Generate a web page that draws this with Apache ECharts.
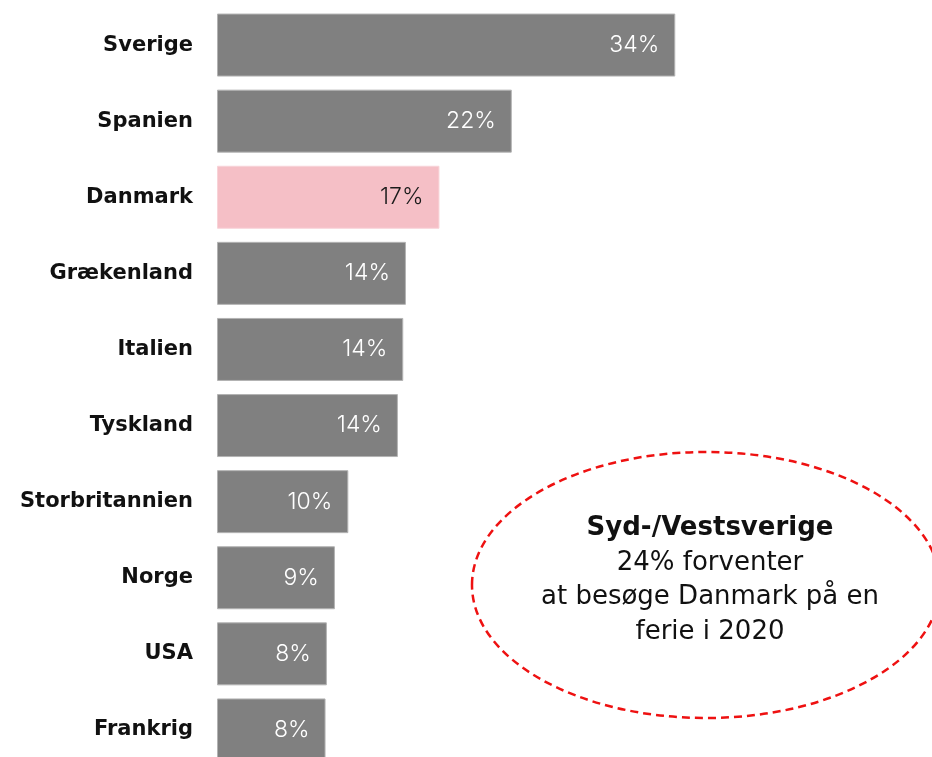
<!DOCTYPE html>
<html>
<head>
<meta charset="utf-8">
<script src="https://cdn.jsdelivr.net/npm/echarts@6/dist/echarts.min.js"></script>
<style>
  html, body { margin: 0; padding: 0; background: #fff; }
  #chart { width: 932px; height: 757px; }
</style>
</head>
<body>
<div id="chart"></div>
<script>
// Ferieland-andele (procent), øverst til nederst
const countries = ['Sverige', 'Spanien', 'Danmark', 'Grækenland', 'Italien', 'Tyskland', 'Storbritannien', 'Norge', 'USA', 'Frankrig'];
const shares = [34.2, 22.0, 16.6, 14.1, 13.9, 13.5, 9.8, 8.8, 8.2, 8.1];
const highlighted = 'Danmark';

// Tekst i boblen
const calloutTitle = 'Syd-/Vestsverige';
const calloutLines = ['24% forventer', 'at besøge Danmark på en', 'ferie i 2020'];

const FONT = '"DejaVu Sans", "Noto Sans", sans-serif';
const VALUE_FONT = 'Inter, "Noto Sans", sans-serif';
const chart = echarts.init(document.getElementById('chart'), null, { renderer: 'canvas' });

const barData = countries.map((c, i) => ({
  value: shares[i],
  itemStyle: c === highlighted
    ? { color: '#f5bfc6', borderColor: '#f8d3d8' }
    : { color: '#808080', borderColor: '#b3b3b3' },
  label: c === highlighted ? { color: '#1a1a1a' } : {}
}));

const cx = 706, cy = 585;
const graphics = [
  {
    type: 'ellipse',
    shape: { cx: cx, cy: cy, rx: 234, ry: 133 },
    style: { fill: 'none', stroke: '#ee1111', lineWidth: 2.5, lineDash: [8, 5] },
    z: 10
  },
  {
    type: 'text',
    x: 710, y: 528,
    style: {
      text: calloutTitle, fill: '#111', font: 'bold 26px ' + FONT,
      textAlign: 'center', textVerticalAlign: 'middle'
    },
    z: 11
  }
];
calloutLines.forEach((t, i) => {
  graphics.push({
    type: 'text',
    x: 710, y: 563 + i * 34.5,
    style: {
      text: t, fill: '#111', font: '26px ' + FONT,
      textAlign: 'center', textVerticalAlign: 'middle'
    },
    z: 11
  });
});

chart.setOption({
  animation: false,
  backgroundColor: '#ffffff',
  grid: { left: 217, top: 7, width: 670, height: 761, containLabel: false, outerBoundsMode: 'none' },
  xAxis: {
    type: 'value', min: 0, max: 50,
    show: false
  },
  yAxis: {
    type: 'category',
    data: countries,
    inverse: true,
    axisLine: { show: false },
    axisTick: { show: false },
    splitLine: { show: false },
    axisLabel: {
      margin: 24,
      color: '#111',
      fontFamily: FONT,
      fontWeight: 'bold',
      fontSize: 21
    }
  },
  series: [{
    type: 'bar',
    data: barData,
    barWidth: 63,
    itemStyle: { borderWidth: 1 },
    label: {
      show: true,
      position: 'insideRight',
      distance: 16,
      color: '#ffffff',
      fontFamily: VALUE_FONT,
      fontWeight: 300,
      fontSize: 23,
      formatter: p => Math.round(p.value) + '%'
    }
  }],
  graphic: graphics
});
</script>
</body>
</html>
